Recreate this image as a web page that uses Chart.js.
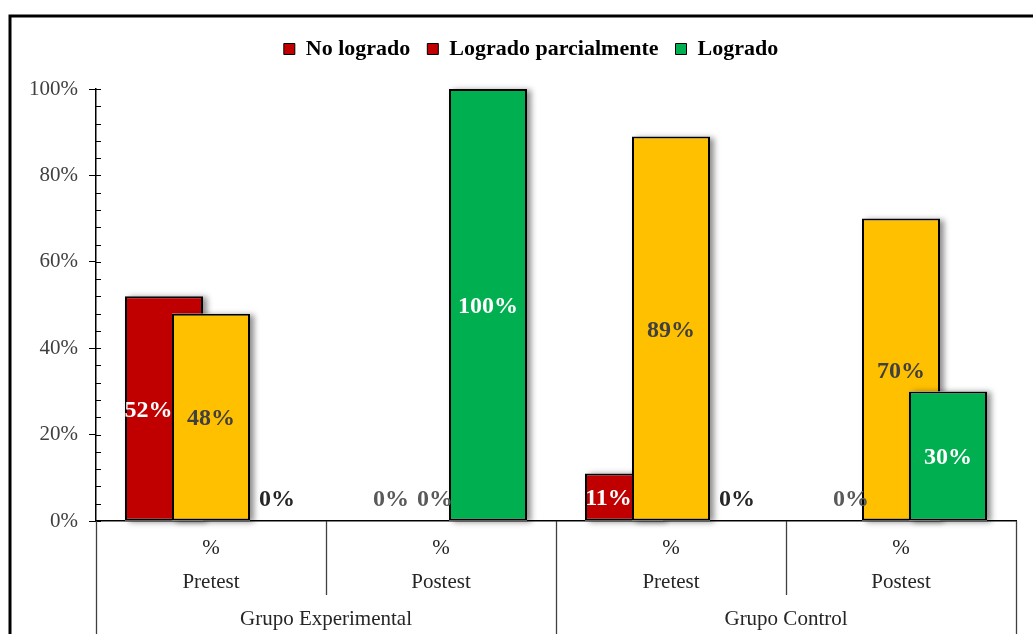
<!DOCTYPE html>
<html>
<head>
<meta charset="utf-8">
<script src="https://cdn.jsdelivr.net/npm/chart.js@4.4.1/dist/chart.umd.min.js"></script>
<style>
  html, body { margin: 0; padding: 0; background: #fff; }
</style>
</head>
<body>
<canvas id="myChart" width="1033" height="634"></canvas>
<script>
// data
const groups = ["Grupo Experimental", "Grupo Control"];
const tests = ["Pretest", "Postest", "Pretest", "Postest"];
const seriesNames = ["No logrado", "Logrado parcialmente", "Logrado"];
const noLogrado = [52, 0, 11, 0];
const parcial = [48, 0, 89, 70];
const logrado = [0, 100, 0, 30];
const yTicks = [0, 20, 40, 60, 80, 100];

const serif = "'Liberation Serif', 'Times New Roman', serif";
Chart.defaults.font.family = serif;

// taller legend band so the plot starts lower, and legend nudged right
const legendBand = {
  id: "legendBand",
  afterInit(chart) {
    const leg = chart.legend;
    const fit = leg.fit.bind(leg);
    leg.fit = function () {
      fit();
      this.height = 68;
    };
  },
  afterLayout(chart) {
    chart.legend.left += 23;
    chart.legend.right += 23;
  }
};

// draw datasets left to right so later series sit on top, with a soft shadow
const drawOrder = {
  id: "drawOrder",
  beforeDatasetsDraw(chart) {
    const ctx = chart.ctx;
    chart.getSortedVisibleDatasetMetas().forEach(meta => {
      ctx.save();
      ctx.shadowColor = "rgba(0,0,0,0.45)";
      ctx.shadowBlur = 6;
      ctx.shadowOffsetX = 4;
      ctx.shadowOffsetY = 1;
      ctx.fillStyle = "#fff";
      meta.data.forEach(bar => {
        const h = bar.base - bar.y;
        if (h > 0) ctx.fillRect(bar.x - bar.width / 2, bar.y, bar.width, h);
      });
      ctx.restore();
      meta.controller.draw();
    });
    return false;
  }
};

// frame, axis dividers, minor ticks, group labels, value labels
const extras = {
  id: "extras",
  afterDraw(chart) {
    const ctx = chart.ctx;
    const x = chart.scales.x, y = chart.scales.y;
    const H = chart.height;

    ctx.save();
    // outer frame
    ctx.strokeStyle = "#000";
    ctx.lineWidth = 3;
    ctx.beginPath();
    ctx.moveTo(10, H);
    ctx.lineTo(10, 16);
    ctx.lineTo(chart.width, 16);
    ctx.stroke();

    // y minor ticks (inside)
    ctx.lineWidth = 1;
    ctx.strokeStyle = "#000";
    y.ticks.forEach(t => {
      const py = Math.round(y.getPixelForValue(t.value)) + 0.5;
      ctx.beginPath();
      ctx.moveTo(y.right, py);
      ctx.lineTo(y.right + 5, py);
      ctx.stroke();
    });

    // category dividers
    ctx.strokeStyle = "#404040";
    ctx.lineWidth = 1.3;
    for (let i = 0; i <= tests.length; i++) {
      const px = Math.round(x.getPixelForValue(i - 0.5)) + 0.5;
      const end = i % 2 === 0 ? H : y.bottom + 74;
      ctx.beginPath();
      ctx.moveTo(px, y.bottom);
      ctx.lineTo(px, end);
      ctx.stroke();
    }

    // group labels
    ctx.fillStyle = "#262626";
    ctx.font = "21px " + serif;
    ctx.textAlign = "center";
    ctx.textBaseline = "middle";
    groups.forEach((g, i) => {
      const a = x.getPixelForValue(i * 2 - 0.5);
      const b = x.getPixelForValue(i * 2 + 1.5);
      ctx.fillText(g, (a + b) / 2, 619);
    });

    // value labels
    const labelColors = ["#ffffff", "#404040", "#ffffff"];
    const zeroColors = ["#595959", "#595959", "#262626"];
    const zeroShift = [-3, -6, 19];
    const metas = chart.getSortedVisibleDatasetMetas();
    ctx.font = "bold 24px " + serif;
    metas.forEach((meta, k) => {
      const ds = chart.data.datasets[meta.index];
      meta.data.forEach((bar, j) => {
        const v = ds.data[j];
        let tx = bar.x, ty;
        if (v > 0) {
          ty = (bar.y + bar.base) / 2 + 2;
          // first series is half hidden by the next one: centre on the visible part
          if (k === 0 && metas[1]) {
            const next = metas[1].data[j];
            tx = ((bar.x - bar.width / 2) + (next.x - next.width / 2)) / 2;
          }
          ctx.fillStyle = labelColors[meta.index];
        } else {
          ty = bar.base - 21;
          tx += zeroShift[meta.index];
          ctx.fillStyle = zeroColors[meta.index];
        }
        ctx.fillText(v + "%", tx, ty);
      });
    });
    ctx.restore();
  }
};

const barStyle = {
  borderColor: "#000000",
  borderWidth: 2,
  borderSkipped: false,
  categoryPercentage: 0.613,
  barPercentage: 1.66
};

new Chart("myChart", {
  type: "bar",
  data: {
    labels: tests.map(t => ["%", t]),
    datasets: [
      Object.assign({ label: seriesNames[0], data: noLogrado, backgroundColor: "#C00000" }, barStyle),
      Object.assign({ label: seriesNames[1], data: parcial, backgroundColor: "#FFC000" }, barStyle),
      Object.assign({ label: seriesNames[2], data: logrado, backgroundColor: "#00B050" }, barStyle)
    ]
  },
  options: {
    responsive: false,
    animation: false,
    layout: { padding: { top: 21, right: 17, left: 0, bottom: 0 } },
    plugins: {
      tooltip: { enabled: false },
      legend: {
        position: "top",
        labels: {
          boxWidth: 11,
          boxHeight: 11,
          padding: 17,
          color: "#000",
          font: { size: 22, weight: "bold" },
          generateLabels(chart) {
            const items = Chart.defaults.plugins.legend.labels.generateLabels(chart);
            items.forEach(it => {
              // legend key of the middle series is red in the original
              if (it.datasetIndex === 1) it.fillStyle = "#C00000";
              it.strokeStyle = "#000";
              it.lineWidth = 1;
            });
            return items;
          }
        }
      }
    },
    scales: {
      x: {
        grid: { display: false },
        border: { display: true, color: "#000", width: 1.5 },
        ticks: {
          color: "#262626",
          font: { size: 21, lineHeight: 1.62 },
          padding: 2,
          maxRotation: 0,
          autoSkip: false
        },
        afterFit(scale) { scale.height = 113; }
      },
      y: {
        min: 0,
        max: 100,
        grid: {
          drawOnChartArea: false,
          drawTicks: true,
          tickLength: 7,
          tickWidth: 1,
          color: ctx => yTicks.includes(ctx.tick.value) ? "#000" : "rgba(0,0,0,0)"
        },
        border: { display: true, color: "#000", width: 1.5 },
        ticks: {
          stepSize: 4,
          autoSkip: false,
          color: "#404040",
          font: { size: 21 },
          padding: 11,
          callback: v => yTicks.includes(v) ? v + "%" : ""
        },
        afterFit(scale) { scale.width = 96; }
      }
    }
  },
  plugins: [legendBand, drawOrder, extras]
});
</script>
</body>
</html>
